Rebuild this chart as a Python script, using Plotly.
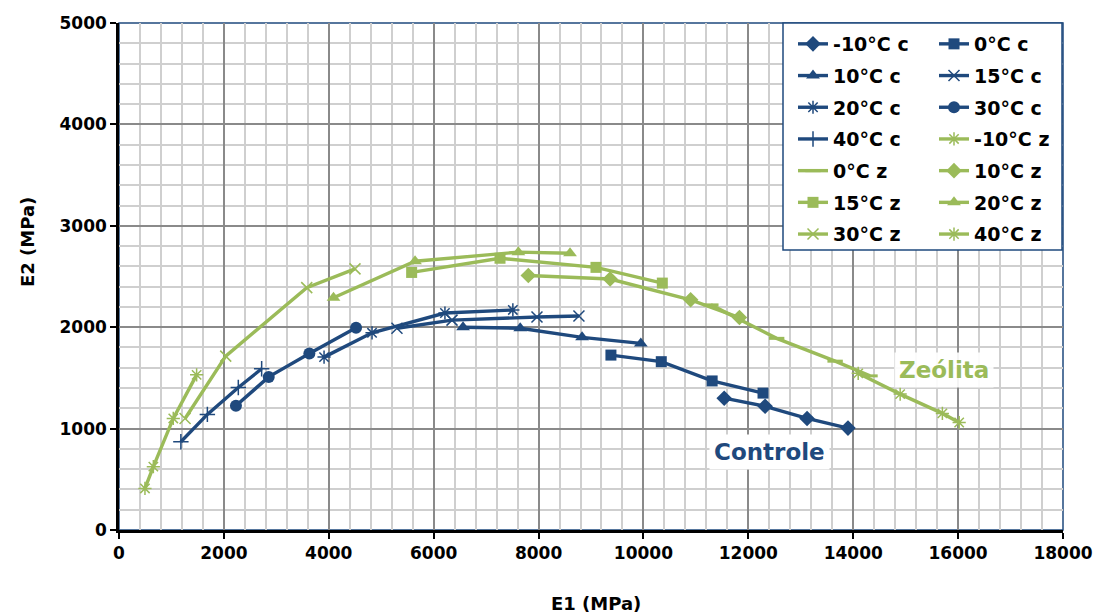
import plotly.graph_objects as go

# Stiffness pairs E1 / E2 (MPa) per test temperature.
# "c" = control mix, "z" = zeolite mix.
c_m10_e1 = [11540, 12320, 13120, 13900]
c_m10_e2 = [1300, 1220, 1100, 1005]
c_0_e1 = [9380, 10340, 11310, 12280]
c_0_e2 = [1725, 1660, 1470, 1350]
c_10_e1 = [6560, 7650, 8830, 9950]
c_10_e2 = [2000, 1990, 1900, 1840]
c_15_e1 = [5300, 6350, 7970, 8770]
c_15_e2 = [1990, 2070, 2100, 2110]
c_20_e1 = [3910, 4825, 6215, 7510]
c_20_e2 = [1705, 1945, 2140, 2170]
c_30_e1 = [2230, 2855, 3630, 4520]
c_30_e2 = [1225, 1510, 1740, 1995]
c_40_e1 = [1180, 1685, 2275, 2720]
c_40_e2 = [870, 1140, 1405, 1590]

z_m10_e1 = [14095, 14895, 15700, 16020]
z_m10_e2 = [1545, 1340, 1150, 1060]
z_0_e1 = [11285, 12540, 13655, 14320]
z_0_e2 = [2220, 1890, 1665, 1520]
z_10_e1 = [7805, 9365, 10900, 11830]
z_10_e2 = [2510, 2475, 2270, 2095]
z_15_e1 = [5580, 7265, 9095, 10360]
z_15_e2 = [2540, 2680, 2590, 2435]
z_20_e1 = [4090, 5645, 7615, 8600]
z_20_e2 = [2290, 2650, 2740, 2730]
z_30_e1 = [1260, 2035, 3580, 4500]
z_30_e2 = [1100, 1715, 2390, 2575]
z_40_e1 = [495, 655, 1035, 1480]
z_40_e2 = [410, 625, 1100, 1530]

series_names = ["-10°C c", "0°C c", "10°C c", "15°C c", "20°C c", "30°C c", "40°C c",
                "-10°C z", "0°C z", "10°C z", "15°C z", "20°C z", "30°C z", "40°C z"]
series_e1 = [c_m10_e1, c_0_e1, c_10_e1, c_15_e1, c_20_e1, c_30_e1, c_40_e1,
             z_m10_e1, z_0_e1, z_10_e1, z_15_e1, z_20_e1, z_30_e1, z_40_e1]
series_e2 = [c_m10_e2, c_0_e2, c_10_e2, c_15_e2, c_20_e2, c_30_e2, c_40_e2,
             z_m10_e2, z_0_e2, z_10_e2, z_15_e2, z_20_e2, z_30_e2, z_40_e2]

BLUE = "#1F497D"
GREEN = "#9BBB59"
FONT = "DejaVu Sans"

# marker symbol, size, outline width for each series
marker_styles = [
    ("diamond", 12, 0), ("square", 11, 0), ("triangle-up", 12, 0),
    ("x-thin-open", 11, 1.5), ("asterisk-open", 11, 1.5), ("circle", 12, 0),
    ("cross-thin-open", 11, 1.5),
    ("asterisk-open", 11, 1.5), ("line-ew-open", 11, 3), ("diamond", 12, 0),
    ("square", 11, 0), ("triangle-up", 12, 0), ("x-thin-open", 11, 1.5),
    ("asterisk-open", 11, 1.5),
]

fig = go.Figure()
for i, name in enumerate(series_names):
    color = BLUE if name.endswith("c") else GREEN
    sym, size, lw = marker_styles[i]
    fig.add_trace(go.Scatter(
        x=series_e1[i], y=series_e2[i], name=name,
        mode="lines+markers",
        line=dict(color=color, width=3.4),
        marker=dict(symbol=sym, size=size, color=color,
                    line=dict(color=color, width=lw)),
        legend="legend" if i % 2 == 0 else "legend2",
        legendgroup=name,
        hoverinfo="x+y+name",
    ))

x0_px, x1_px, y0_px, y1_px = 119, 1063, 23, 530
W, H = 1096, 616

def px_to_paper_x(px):
    return (px - x0_px) / (x1_px - x0_px)

def px_to_paper_y(py):
    return (y1_px - py) / (y1_px - y0_px)

legend_common = dict(
    font=dict(family=FONT, size=19, color="black", weight="bold"),
    bgcolor="rgba(0,0,0,0)", borderwidth=0,
    traceorder="grouped", tracegroupgap=4,
    yanchor="top", xanchor="left", orientation="v",
    itemclick=False, itemdoubleclick=False,
)

tickfont = dict(family=FONT, size=17, color="black", weight="bold")
titlefont = dict(family=FONT, size=18, color="black", weight="bold")

fig.update_layout(
    width=W, height=H,
    margin=dict(l=x0_px, r=W - x1_px, t=y0_px, b=H - y1_px),
    paper_bgcolor="white", plot_bgcolor="white",
    showlegend=True,
    legend=dict(x=px_to_paper_x(793), y=px_to_paper_y(25), **legend_common),
    legend2=dict(x=px_to_paper_x(934), y=px_to_paper_y(25), **legend_common),
    xaxis=dict(
        range=[0, 18000], dtick=2000, tick0=0, tickformat="d", automargin=False,
        showgrid=True, gridcolor="#8a8a8a", gridwidth=2,
        minor=dict(dtick=400, showgrid=True, gridcolor="#cfcfcf", gridwidth=1.5),
        showline=True, linecolor="black", linewidth=2.5,
        ticks="outside", ticklen=6, tickwidth=1.5, tickcolor="black",
        zeroline=False, tickfont=tickfont,
    ),
    yaxis=dict(
        range=[0, 5000], dtick=1000, tick0=0, tickformat="d", automargin=False,
        showgrid=True, gridcolor="#8a8a8a", gridwidth=2,
        minor=dict(dtick=200, showgrid=True, gridcolor="#cfcfcf", gridwidth=1.5),
        showline=True, linecolor="black", linewidth=2.5,
        ticks="outside", ticklen=6, tickwidth=1.5, tickcolor="black",
        zeroline=False, tickfont=tickfont,
    ),
    shapes=[
        # plot-area frame (top / right edges)
        dict(type="rect", xref="paper", yref="paper", x0=0, x1=1, y0=0, y1=1,
             line=dict(color=BLUE, width=1.5), layer="below"),
        # legend box
        dict(type="rect", xref="paper", yref="paper",
             x0=px_to_paper_x(783), x1=px_to_paper_x(1062),
             y0=px_to_paper_y(250), y1=px_to_paper_y(23),
             line=dict(color=BLUE, width=1.5), fillcolor="white", layer="above"),
    ],
    annotations=[
        dict(text="Controle", x=12395, y=770, xref="x", yref="y",
             showarrow=False, bgcolor="white", borderpad=4,
             font=dict(family=FONT, size=23, color=BLUE, weight="bold")),
        dict(text="Zeólita", x=15730, y=1575, xref="x", yref="y",
             showarrow=False, bgcolor="rgba(255,255,255,0.9)", borderpad=4,
             font=dict(family=FONT, size=23, color=GREEN, weight="bold")),
        dict(text="E2 (MPa)", x=px_to_paper_x(27), y=px_to_paper_y(242),
             xref="paper", yref="paper", showarrow=False, textangle=-90,
             xanchor="center", yanchor="middle", font=titlefont),
        dict(text="E1 (MPa)", x=px_to_paper_x(596), y=px_to_paper_y(603),
             xref="paper", yref="paper", showarrow=False,
             xanchor="center", yanchor="middle", font=titlefont),
    ],
)

fig.write_html("out.html")
